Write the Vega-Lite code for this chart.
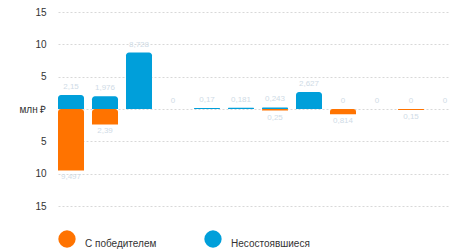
{
  "$schema": "https://vega.github.io/schema/vega-lite/v6.json",
  "autosize": "none",
  "padding": {"left": 58, "top": 12, "right": 0, "bottom": 45},
  "width": 400,
  "height": 194,
  "config": {
    "view": {"stroke": null},
    "font": "Liberation Sans",
    "locale": {"number": {"decimal": ",", "thousands": " ", "grouping": [3], "currency": ["", " ₽"]}}
  },
  "data": {"values": [
    {"cat": 1, "series": "Несостоявшиеся", "value": 2.15, "amount": 2.15},
    {"cat": 2, "series": "Несостоявшиеся", "value": 1.976, "amount": 1.976},
    {"cat": 3, "series": "Несостоявшиеся", "value": 8.728, "amount": 8.728},
    {"cat": 4, "series": "Несостоявшиеся", "value": 0, "amount": 0},
    {"cat": 5, "series": "Несостоявшиеся", "value": 0.17, "amount": 0.17},
    {"cat": 6, "series": "Несостоявшиеся", "value": 0.181, "amount": 0.181},
    {"cat": 7, "series": "Несостоявшиеся", "value": 0.243, "amount": 0.243},
    {"cat": 8, "series": "Несостоявшиеся", "value": 2.627, "amount": 2.627},
    {"cat": 9, "series": "Несостоявшиеся", "value": 0, "amount": 0},
    {"cat": 10, "series": "Несостоявшиеся", "value": 0, "amount": 0},
    {"cat": 11, "series": "Несостоявшиеся", "value": 0, "amount": 0},
    {"cat": 12, "series": "Несостоявшиеся", "value": 0, "amount": 0},
    {"cat": 1, "series": "С победителем", "value": -9.497, "amount": 9.497},
    {"cat": 2, "series": "С победителем", "value": -2.39, "amount": 2.39},
    {"cat": 7, "series": "С победителем", "value": -0.25, "amount": 0.25},
    {"cat": 9, "series": "С победителем", "value": -0.814, "amount": 0.814},
    {"cat": 11, "series": "С победителем", "value": -0.15, "amount": 0.15}
  ]},
  "encoding": {
    "x": {"field": "cat", "type": "ordinal", "axis": null,
          "scale": {"paddingInner": 0.235, "paddingOuter": 0}},
    "y": {"field": "value", "type": "quantitative", "stack": null,
          "scale": {"domain": [-15, 15], "nice": false, "zero": true},
          "axis": {"title": null, "values": [-15, -10, -5, 0, 5, 10, 15],
                   "labelExpr": "datum.value == 0 ? 'млн ₽' : abs(datum.value)",
                   "domain": false, "ticks": false, "labelPadding": 12,
                   "labelFontSize": 10, "labelColor": "#333333", "labelOverlap": false,
                   "gridDash": [2, 2], "gridColor": "#d8d8d8", "gridWidth": 1}}
  },
  "layer": [
    {
      "mark": {"type": "bar", "cornerRadiusEnd": 3},
      "encoding": {
        "color": {"field": "series", "type": "nominal",
                  "scale": {"domain": ["С победителем", "Несостоявшиеся"], "range": ["#ff7300", "#009fda"]},
                  "legend": {"title": null, "orient": "none", "legendX": 0, "legendY": 218,
                             "direction": "horizontal", "symbolType": "circle", "symbolSize": 300,
                             "symbolStrokeWidth": 0, "labelFontSize": 10, "labelColor": "#333333",
                             "columnPadding": 47, "labelBaseline": "top", "labelOffset": 9, "padding": 0}}
      }
    },
    {
      "transform": [{"filter": "datum.series == 'Несостоявшиеся'"}],
      "mark": {"type": "text", "baseline": "bottom", "dy": -4, "fontSize": 8, "color": "#cfdbe6"},
      "encoding": {
        "text": {"field": "amount", "type": "quantitative", "format": ".4~g"}
      }
    },
    {
      "transform": [{"filter": "datum.series == 'С победителем'"}],
      "mark": {"type": "text", "baseline": "top", "dy": 3, "fontSize": 8, "color": "#cfdbe6"},
      "encoding": {
        "text": {"field": "amount", "type": "quantitative", "format": ".4~g"}
      }
    }
  ]
}
